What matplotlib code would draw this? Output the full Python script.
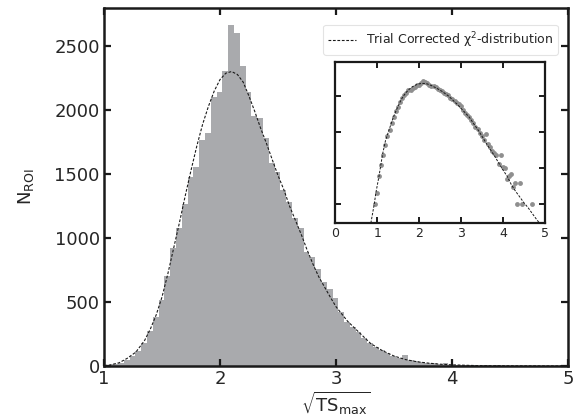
import matplotlib
matplotlib.use('Agg')
import matplotlib.pyplot as plt
import numpy as np

plt.rcParams['font.family'] = ['DejaVu Sans']
plt.rcParams['text.color'] = '#262626'
plt.rcParams['axes.labelcolor'] = '#262626'
plt.rcParams['xtick.color'] = '#1a1a1a'
plt.rcParams['ytick.color'] = '#1a1a1a'
plt.rcParams['xtick.labelcolor'] = '#262626'
plt.rcParams['ytick.labelcolor'] = '#262626'

# histogram of sqrt(TS_max): bin left edges start at 0.92, width 0.05
bin_start = 0.92
bin_width = 0.05
counts = [1, 2, 6, 12, 24, 45, 78, 118, 180, 275,
          385, 515, 700, 921, 1080, 1268, 1481, 1560, 1768, 1821,
          2102, 2139, 2311, 2668, 2603, 2345, 2139, 1956, 1940, 1782,
          1586, 1521, 1380, 1286, 1155, 1077, 895, 855, 757, 660,
          600, 530, 425, 347, 308, 262, 217, 177, 145, 125,
          99, 80, 62, 88, 47, 38, 30, 26, 24, 13,
          24, 11, 10, 5, 6, 7, 3, 4, 1, 4,
          1, 0, 0, 0, 0, 1]

# trial corrected chi^2 distribution
curve_x = [0.85, 0.93, 0.97, 1.04, 1.13, 1.2, 1.275, 1.35, 1.4, 1.45,
           1.5, 1.55, 1.6, 1.65, 1.7, 1.75, 1.8, 1.85, 1.9, 1.95,
           2.0, 2.05, 2.1, 2.15, 2.2, 2.25, 2.3, 2.35, 2.4, 2.45,
           2.5, 2.55, 2.6, 2.65, 2.7, 2.75, 2.8, 2.85, 2.9, 2.95,
           3.0, 3.1, 3.2, 3.3, 3.4, 3.5, 3.6, 3.7, 3.8, 3.9,
           4.0, 4.1, 4.2, 4.3, 4.4, 4.5, 4.6, 4.7, 4.8, 4.9, 5.0]
curve_y = [0.3, 1, 2.1, 5.7, 25, 60, 109, 200, 290, 400,
           540, 720, 920, 1120, 1330, 1530, 1720, 1890, 2030, 2150,
           2240, 2290, 2303, 2280, 2220, 2110, 1990, 1860, 1742, 1615,
           1490, 1380, 1250, 1140, 1030, 910, 800, 700, 620, 540,
           464, 350, 262, 175, 120, 78, 50, 33, 22, 14,
           9, 6, 3.5, 2.3, 1.6, 1.1, 0.8, 0.55, 0.38, 0.27, 0.19]

counts = np.array(counts)
edges = bin_start + bin_width * np.arange(len(counts) + 1)
centers = edges[:-1] + bin_width / 2

fig = plt.figure(figsize=(5.76, 4.2), dpi=100)
ax = fig.add_axes([0.1806, 0.1286, 0.8054, 0.8524])

ax.stairs(counts, edges, fill=True, color='#a9aaad', linewidth=0)
ax.plot(curve_x, curve_y, color='#1a1a1a', ls=(0, (2.5, 1.5)), lw=0.8,
        label='Trial Corrected χ$^{2}$-distribution')

ax.set_xlim(1, 5)
ax.set_ylim(0, 2800)
ax.set_xticks([1, 2, 3, 4, 5])
ax.set_yticks([0, 500, 1000, 1500, 2000, 2500])
ax.tick_params(direction='in', length=5, width=1.6, labelsize=13,
               top=True, right=True, pad=3)
for s in ax.spines.values():
    s.set_linewidth(1.8)
    s.set_color('#1a1a1a')
ax.set_ylabel('N$_{\\mathrm{ROI}}$', fontsize=13, labelpad=13)
ax.set_xlabel('$\\sqrt{\\mathrm{TS}_{\\mathrm{max}}}$', fontsize=13, labelpad=1)

leg = ax.legend(loc='upper right', bbox_to_anchor=(0.978, 0.9525),
                borderaxespad=0, fontsize=9, handlelength=2.2,
                frameon=True, fancybox=True, edgecolor='#dddddd')
leg.get_frame().set_linewidth(0.8)

# inset: same histogram on a log scale
axi = fig.add_axes([0.582, 0.469, 0.364, 0.383])
nz = counts > 0
axi.plot(centers[nz], counts[nz], 'o', color='#8f8f8f', ms=3.5, mew=0)
axi.plot(curve_x, curve_y, color='#1a1a1a', ls=(0, (2.5, 1.5)), lw=0.7)
axi.set_yscale('log')
axi.set_xlim(0, 5)
axi.set_ylim(0.3, 9000)
axi.set_xticks([0, 1, 2, 3, 4, 5])
axi.set_yticks([1, 10, 100, 1000])
axi.minorticks_off()
axi.set_yticklabels([])
axi.tick_params(direction='in', length=4, width=1.4, labelsize=9,
                top=True, right=True, pad=3)
for s in axi.spines.values():
    s.set_linewidth(1.6)
    s.set_color('#1a1a1a')

fig.savefig('out.png', dpi=100)
